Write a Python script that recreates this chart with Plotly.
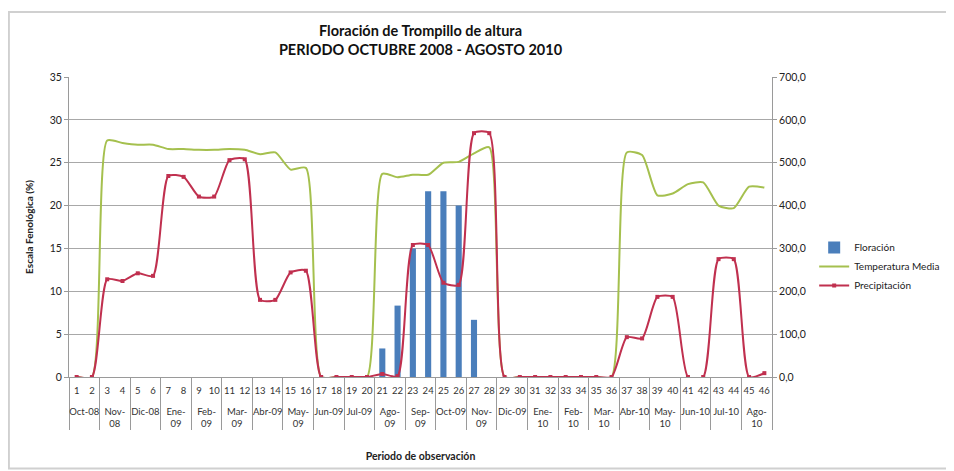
import plotly.graph_objects as go

# Periodos de observación (1..46) y meses (cada mes = 2 observaciones)
periodos = [str(i) for i in range(1, 47)]
meses = ["Oct-08", "Nov-<br>08", "Dic-08", "Ene-<br>09", "Feb-<br>09", "Mar-<br>09",
         "Abr-09", "May-<br>09", "Jun-09", "Jul-09", "Ago-<br>09", "Sep-<br>09",
         "Oct-09", "Nov-<br>09", "Dic-09", "Ene-<br>10", "Feb-<br>10", "Mar-<br>10",
         "Abr-10", "May-<br>10", "Jun-10", "Jul-10", "Ago-<br>10"]
# línea vacía delante para separar los meses de los números, como en Excel
meses_x = ["<br>" + m for m in meses for _ in range(2)]

floracion = [None] * 20 + [3.33, 8.33, 15.0, 21.67, 21.67, 20.0, 6.67] + [None] * 19

temperatura = [0, 0, 27.6, 27.3, 27.1, 27.1, 26.6, 26.6, 26.5, 26.5,
               26.6, 26.5, 26.0, 26.2, 24.2, 24.4, 0, 0, 0, 0,
               23.7, 23.3, 23.6, 23.6, 25.0, 25.1, 26.1, 26.8, 0, 0,
               0, 0, 0, 0, 0, 0, 26.2, 25.9, 21.2, 21.4,
               22.5, 22.7, 20.0, 19.7, 22.2, 22.1]

precipitacion = [0, 0, 228, 224, 242, 236, 469, 467, 421, 421,
                 506, 508, 180, 180, 244, 248, 0, 0, 0, 0,
                 7, 2, 308, 308, 220, 215, 569, 569, 0, 0,
                 0, 0, 0, 0, 0, 0, 93, 90, 187, 187,
                 0, 0, 275, 275, 0, 9]

AZUL, VERDE, ROJO = "#4A7EBB", "#A5C04E", "#C0304F"
FONT = "Lato"

fig = go.Figure()
fig.add_trace(go.Bar(x=[meses_x, periodos], y=floracion, name="Floración",
                     marker=dict(color=AZUL, line=dict(width=0))))
fig.add_trace(go.Scatter(x=[meses_x, periodos], y=temperatura, name="Temperatura Media",
                         mode="lines", line=dict(color=VERDE, width=2,
                                                 shape="spline", smoothing=0.6)))
fig.add_trace(go.Scatter(x=[meses_x, periodos], y=precipitacion, name="Precipitación",
                         yaxis="y2", mode="lines+markers",
                         line=dict(color=ROJO, width=2, shape="spline", smoothing=0.6),
                         marker=dict(color=ROJO, size=4, symbol="square")))

# Marco del área del gráfico (estilo Excel)
fig.add_shape(type="rect", xref="paper", yref="paper",
              x0=-0.0855, x1=1.27, y0=-0.305, y1=1.217,
              line=dict(color="#D0D0D0", width=2), layer="below")

# la página añade 8 px de margen al cuerpo: la figura se reduce en consecuencia
fig.update_layout(
    width=946, height=463,
    margin=dict(l=61, r=182, t=69, b=94, autoexpand=False),
    paper_bgcolor="white", plot_bgcolor="white",
    font=dict(family=FONT, size=10, color="#222"),
    title=dict(text="<b>Floración de Trompillo de altura<br>PERIODO OCTUBRE 2008 - AGOSTO 2010</b>",
               x=0.5, xref="paper", y=0.94, yanchor="top",
               font=dict(family=FONT, size=14.5, color="#111")),
    bargap=0.6,
    showlegend=True,
    legend=dict(x=1.06, y=0.48, xanchor="left", yanchor="top",
                font=dict(family=FONT, size=10), tracegroupgap=6,
                bgcolor="rgba(0,0,0,0)"),
    xaxis=dict(type="multicategory", range=[-0.5, 45.5], autorange=False,
               showline=True, linecolor="#9A9A9A",
               showdividers=True, dividercolor="#9A9A9A", dividerwidth=1,
               ticks="", tickangle=0, automargin=False, ticklabelstandoff=5,
               tickfont=dict(family=FONT, size=9.5, color="#333"),
               title=dict(text="<b>Periodo de observación</b>",
                          font=dict(family=FONT, size=10.5), standoff=24)),
    yaxis=dict(range=[0, 35], dtick=5, showgrid=True, gridcolor="#A8A8A8",
               gridwidth=1, zeroline=False, showline=True, linecolor="#9A9A9A",
               ticks="outside", ticklen=4, tickcolor="#9A9A9A", automargin=False,
               tickfont=dict(family=FONT, size=10.5),
               title=dict(text="<b>Escala Fenológica (%)</b>",
                          font=dict(family=FONT, size=10), standoff=14)),
    yaxis2=dict(range=[0, 700], overlaying="y", side="right",
                tickvals=list(range(0, 701, 100)),
                ticktext=[f"{v},0" for v in range(0, 701, 100)],
                showgrid=False, zeroline=False, showline=True, linecolor="#9A9A9A",
                ticks="outside", ticklen=4, tickcolor="#9A9A9A", automargin=False,
                tickfont=dict(family=FONT, size=10.5)),
)

fig.write_html("out.html")
